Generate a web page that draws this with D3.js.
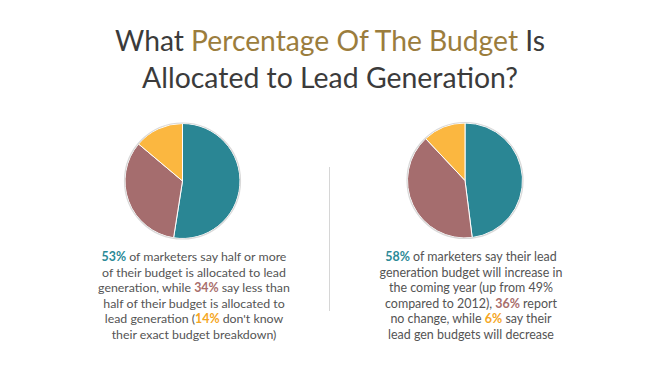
<!DOCTYPE html>
<html><head><meta charset="utf-8">
<script src="https://cdn.jsdelivr.net/npm/d3@7"></script>
<style>body{margin:0;background:#fff}svg{display:block}</style>
</head><body>
<svg id="c" width="650" height="368"></svg>
<script>
const categories = ["Half or more / Increase", "Less than half / No change", "Don't know / Decrease"];
const leftValues = [53, 34, 14];
const rightValues = [48, 40, 12];
const colors = ["#2a8694", "#a56d6e", "#fbb740"];
const titleLine1 = [["What ", "#3b3b3b"], ["Percentage Of The Budget", "#9b7d3d"], [" Is", "#3b3b3b"]];
const titleLine2 = [["Allocated to Lead Generation?", "#3b3b3b"]];
const leftText = [
  [["53%", 0], [" of marketers say half or more", -1]],
  [["of their budget is allocated to lead", -1]],
  [["generation, while ", -1], ["34%", 1], [" say less than", -1]],
  [["half of their budget is allocated to", -1]],
  [["lead generation (", -1], ["14%", 2], [" don't know", -1]],
  [["their exact budget breakdown)", -1]]
];
const rightText = [
  [["58%", 0], [" of marketers say their lead", -1]],
  [["generation budget will increase in", -1]],
  [["the coming year (up from 49%", -1]],
  [["compared to 2012), ", -1], ["36%", 1], [" report", -1]],
  [["no change, while ", -1], ["6%", 2], [" say their", -1]],
  [["lead gen budgets will decrease", -1]]
];
const pctColors = ["#2b8a97", "#a86e6c", "#f5a623"];

const svg = d3.select("#c");
const font = "'Lato', 'Open Sans', sans-serif";

function drawLine(x, y, segs, size, colorFn, weightFn, targetW) {
  const t = svg.append("text").attr("x", x).attr("y", y)
    .attr("text-anchor", "middle").attr("font-family", font).attr("font-size", size);
  segs.forEach(s => t.append("tspan").text(s[0]).attr("fill", colorFn(s)).attr("font-weight", weightFn(s)));
  if (targetW) {
    const w = t.node().getComputedTextLength();
    t.attr("font-size", size * targetW / w);
  }
  return t;
}

// Title
drawLine(330, 51, titleLine1, 28, s => s[1], () => 400, 430);
drawLine(330, 88, titleLine2, 28, s => s[1], () => 400, 376);

// Pies
const pie = d3.pie().sort(null).value(d => d);
const arc = d3.arc().innerRadius(0).outerRadius(57.5);
function drawPie(cx, cy, vals) {
  const g = svg.append("g").attr("transform", `translate(${cx},${cy})`);
  g.selectAll("path").data(pie(vals)).join("path")
    .attr("d", arc).attr("fill", (d, i) => colors[i])
    .attr("stroke", "#ffffff").attr("stroke-width", 1);
  g.append("circle").attr("r", 58).attr("fill", "none").attr("stroke", "#d9d9d9").attr("stroke-width", 1.2);
}
drawPie(182.5, 181, leftValues);
drawPie(465, 180.5, rightValues);

// Divider
svg.append("line").attr("x1", 329.5).attr("x2", 329.5).attr("y1", 167).attr("y2", 311)
  .attr("stroke", "#d6d6d6").attr("stroke-width", 1);

// Body text
const leftW = [185, 185, 187.7, 180, 178, 161.7];
const rightW = [171.7, 181.7, 168, 169, 157, 170];
function drawBlock(cx, lines, widths) {
  // measure size for first line, then apply same size to all
  const probe = drawLine(cx, 261, lines[0], 13, s => s[1] < 0 ? "#545454" : pctColors[s[1]], s => s[1] < 0 ? 400 : 700, widths[0]);
  const size = +probe.attr("font-size");
  probe.remove();
  lines.forEach((l, i) => {
    drawLine(cx, 261 + i * 15.6, l, size, s => s[1] < 0 ? "#545454" : pctColors[s[1]], s => s[1] < 0 ? 400 : 700);
  });
}
drawBlock(194, leftText, leftW);
drawBlock(471, rightText, rightW);
</script>
</body></html>
